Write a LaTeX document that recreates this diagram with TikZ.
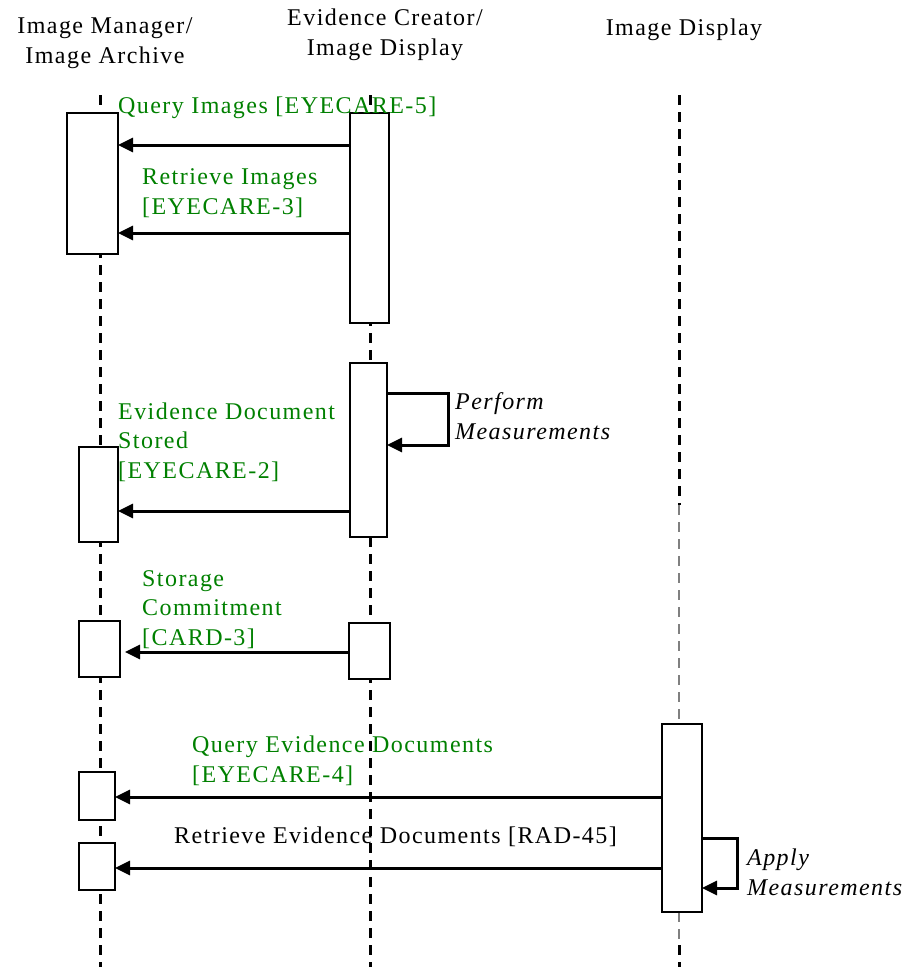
\documentclass[tikz,border=0pt]{standalone}
\usepackage{fontspec}
\setmainfont{Liberation Serif}[LetterSpace=6]
\usetikzlibrary{arrows.meta,positioning,calc}
\definecolor{msgGreen}{RGB}{0,128,0}

\begin{document}
\begin{tikzpicture}[x=1pt,y=-1pt,
    lbl/.style={font=\fontsize{24}{29.5}\selectfont, inner sep=0pt},
    note/.style={lbl, text=msgGreen, anchor=base west, align=left},
    head/.style={lbl, anchor=base, align=center},
    lifeline/.style={line width=3pt, dash pattern=on 10pt off 7pt},
    actbox/.style={draw, fill=white, line width=2.5pt, inner sep=0pt, outer sep=0pt},
    msg/.style={line width=3pt, -{Triangle[length=15pt,width=14pt]}}]
    \useasboundingbox (0,0) rectangle (910,967);

    % actors (base = last line)
    \node[head] (mgr) at (105,63) {Image Manager/\\Image Archive};
    \node[head] (creator) at (385,55) {Evidence Creator/\\Image Display};
    \node[head] (disp) at (684,35) {Image Display};

    % lifelines
    \draw[lifeline] (100,95) -- (100,967);
    \draw[lifeline] (370,95) -- (370,967);
    \draw[lifeline] (679,95) -- (679,505);
    \draw[lifeline, line width=1.2pt, gray] (679,505) -- (679,724);
    \draw[lifeline, line width=1.2pt, gray] (679,912) -- (679,945);
    \draw[lifeline] (679,945) -- (679,967);

    % activation boxes
    \node[actbox, minimum width=51, minimum height=141] (im1) at (92.5,183.5) {};
    \node[actbox, minimum width=39, minimum height=210] (ec1) at (369.5,218) {};
    \node[actbox, minimum width=37, minimum height=174] (ec2) at (368.5,450) {};
    \node[actbox, minimum width=39, minimum height=95] (im2) at (98.5,494.5) {};
    \node[actbox, minimum width=41, minimum height=56] (im3) at (99.5,649) {};
    \node[actbox, minimum width=41, minimum height=56] (ec3) at (369.5,651) {};
    \node[actbox, minimum width=40, minimum height=188] (id1) at (682,818) {};
    \node[actbox, minimum width=36, minimum height=48] (im4) at (97,796) {};
    \node[actbox, minimum width=36, minimum height=47] (im5) at (97,866.5) {};

    % images
    \draw[msg] (ec1.west |- 0,145) -- (im1.east |- 0,145);
    \node[note] (qimg) at (118,113) {Query Images [EYECARE-5]};
    \draw[msg] (ec1.west |- 0,233) -- (im1.east |- 0,233);
    \node[note] (rimg) at (142,214) {Retrieve Images\\{}[EYECARE-3]};

    % measurements
    \coordinate (pm) at (448,445);
    \draw[msg] (ec2.east |- 0,393) -| (pm) -- (ec2.east |- pm);
    \node[lbl, anchor=base west, align=left, font=\fontsize{24}{29.5}\selectfont\itshape] (perf) at (455,439) {Perform\\Measurements};

    % evidence stored
    \draw[msg] (ec2.west |- 0,511) -- (im2.east |- 0,511);
    \node[note] (stored) at (118,478) {Evidence Document\\Stored\\{}[EYECARE-2]};

    % storage commitment
    \draw[msg, shorten >=5pt] (ec3.west |- 0,652) -- (im3.east |- 0,652);
    \node[note] (commit) at (142,645) {Storage\\Commitment\\{}[CARD-3]};

    % evidence documents
    \draw[msg] (id1.west |- 0,797) -- (im4.east |- 0,797);
    \node[note] (qdoc) at (192,782) {Query Evidence Documents\\{}[EYECARE-4]};
    \draw[msg] (id1.west |- 0,868) -- (im5.east |- 0,868);
    \node[lbl, anchor=base west] (rdoc) at (174,843) {Retrieve Evidence Documents [RAD-45]};

    \coordinate (am) at (737,888);
    \draw[msg] (id1.east |- 0,838) -| (am) -- (id1.east |- am);
    \node[lbl, anchor=base west, align=left, font=\fontsize{24}{29.5}\selectfont\itshape] (apply) at (747,895) {Apply\\Measurements};
\end{tikzpicture}
\end{document}
